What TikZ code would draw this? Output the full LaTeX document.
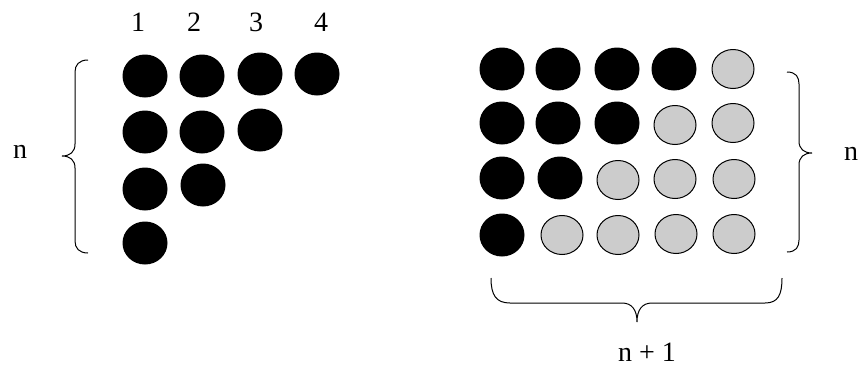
\documentclass[tikz,border=0pt]{standalone}
\usepackage{fontspec}
\setmainfont{Liberation Serif}
\usetikzlibrary{shapes.geometric}
\definecolor{dotgrey}{RGB}{204,204,204}
\begin{document}
\begin{tikzpicture}[x=1pt,y=-1pt,
  bdot/.style={ellipse,fill=black,draw=none,minimum width=45pt,minimum height=43pt,inner sep=0pt},
  gdot/.style={ellipse,fill=dotgrey,draw=black,line width=1pt,minimum width=42pt,minimum height=39pt,inner sep=0pt},
  lab/.style={font=\fontsize{28}{30}\selectfont,inner sep=0pt},
  brace/.style={draw=black,line width=1pt}]
\useasboundingbox (0,0) rectangle (862,370);
% left triangle
\node[lab] (c1) at (138,22) {1};
\node[lab] (c2) at (194,22) {2};
\node[lab] (c3) at (256,22) {3};
\node[lab] (c4) at (321,22) {4};
\node[bdot] (a11) at (145,76) {};
\node[bdot] (a12) at (202,76) {};
\node[bdot] (a13) at (260,74) {};
\node[bdot] (a14) at (317,74) {};
\node[bdot] (a21) at (145,132) {};
\node[bdot] (a22) at (202,132) {};
\node[bdot] (a23) at (260,130) {};
\node[bdot] (a31) at (145,189) {};
\node[bdot] (a32) at (203,185) {};
\node[bdot] (a41) at (145,243) {};
\node[lab] (nl) at (20,152) {n};
\path[brace] (88,60) .. controls (79,60) and (75,65) .. (75,72) -- (75,144)
  .. controls (75,152) and (70,156) .. (62,156)
  .. controls (70,156) and (75,160) .. (75,168) -- (75,241)
  .. controls (75,248) and (79,253) .. (88,253);
% right rectangle
\node[bdot] (b11) at (502,69) {};
\node[bdot] (b12) at (558,69) {};
\node[bdot] (b13) at (617,69) {};
\node[bdot] (b14) at (674,69) {};
\node[gdot] (b15) at (733,69) {};
\node[bdot] (b21) at (502,123) {};
\node[bdot] (b22) at (558,123) {};
\node[bdot] (b23) at (617,123) {};
\node[gdot] (b24) at (675,125) {};
\node[gdot] (b25) at (733,123) {};
\node[bdot] (b31) at (502,178) {};
\node[bdot] (b32) at (560,178) {};
\node[gdot] (b33) at (618,180) {};
\node[gdot] (b34) at (675,179) {};
\node[gdot] (b35) at (734,179) {};
\node[bdot] (b41) at (502,235) {};
\node[gdot] (b42) at (562,235) {};
\node[gdot] (b43) at (618,235) {};
\node[gdot] (b44) at (676,234) {};
\node[gdot] (b45) at (734,234) {};
\path[brace] (787,72) .. controls (796,72) and (799,77) .. (799,84) -- (799,141)
  .. controls (799,149) and (804,153) .. (812,153)
  .. controls (804,153) and (799,157) .. (799,165) -- (799,240)
  .. controls (799,247) and (796,252) .. (787,252);
\node[lab] (nr) at (851,154) {n};
\path[brace] (491,278) .. controls (491,295) and (496,303) .. (510,303) -- (622,303)
  .. controls (632,303) and (637,310) .. (637,322)
  .. controls (637,310) and (642,303) .. (652,303) -- (765,303)
  .. controls (778,303) and (782,295) .. (782,278);
\node[lab] (nb) at (647,352) {n + 1};
\end{tikzpicture}
\end{document}
